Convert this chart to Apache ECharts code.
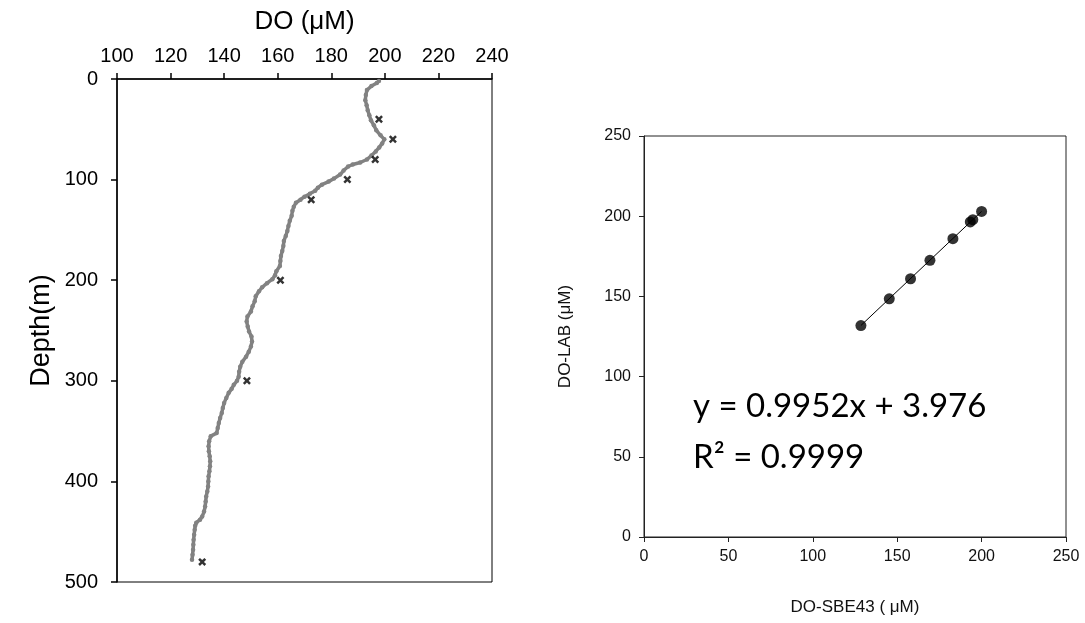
<!DOCTYPE html>
<html>
<head>
<meta charset="utf-8">
<script src="https://cdn.jsdelivr.net/npm/echarts@6/dist/echarts.min.js"></script>
<style>
  html, body { margin: 0; padding: 0; background: #fff; }
  #chart { width: 1085px; height: 623px; }
</style>
</head>
<body>
<div id="chart"></div>
<script>
// CTD dissolved-oxygen profile (SBE43), depth in m, DO in µM
const profileDepth = [2, 4, 7, 11, 16, 21, 26, 31, 36, 41, 46, 51, 56, 60, 64, 68, 72, 76, 80, 83,
  85, 87, 91, 95, 99, 102, 105, 108, 111, 114, 117, 120, 123, 127, 131, 136, 141, 146, 151, 156,
  161, 166, 171, 176, 181, 186, 191, 195, 199, 203, 207, 211, 216, 221, 226, 231, 236, 241, 246, 251,
  256, 261, 266, 271, 276, 281, 286, 291, 296, 300, 304, 308, 312, 317, 322, 327, 332, 337, 342, 347,
  352, 355, 360, 365, 370, 375, 380, 385, 390, 395, 400, 405, 410, 415, 420, 425, 430, 435, 438, 441,
  444, 448, 453, 458, 463, 468, 473, 478];
const profileDO = [197.8, 197.0, 195.0, 193.3, 192.9, 192.7, 193.2, 193.6, 194.2, 194.8, 195.9, 196.8, 198.4, 199.8, 199.0, 197.9, 196.6, 195.0, 193.3, 190.8,
  188.0, 186.3, 184.6, 183.3, 181.0, 179.0, 176.5, 175.0, 174.0, 172.0, 170.0, 168.5, 166.8, 166.0, 165.5, 165.2, 164.5, 164.0, 163.6, 163.0,
  162.3, 162.1, 161.7, 161.2, 161.0, 160.8, 159.5, 159.0, 158.0, 156.0, 154.2, 153.0, 151.8, 151.4, 150.6, 150.0, 148.7, 148.4, 148.8, 149.3,
  150.2, 150.4, 150.0, 149.2, 148.2, 146.8, 146.0, 145.6, 145.4, 144.8, 143.6, 142.8, 141.7, 140.8, 140.0, 139.5, 139.1, 138.5, 138.0, 137.6,
  137.2, 135.0, 134.4, 134.2, 134.3, 134.6, 134.8, 134.7, 134.5, 134.2, 134.1, 134.0, 133.7, 133.3, 133.1, 132.9, 132.5, 131.8, 131.0, 129.6,
  129.2, 129.0, 128.8, 128.6, 128.5, 128.4, 128.2, 128.0];

// Bottle samples: depth, Winkler (lab) DO and the matching SBE43 reading
const sampleDepth = [40, 60, 80, 100, 120, 200, 300, 480];
const labDO = [197.8, 203.0, 196.4, 186.0, 172.5, 161.0, 148.5, 131.8];
const sbeDO = [194.8, 200.0, 193.3, 183.0, 169.4, 157.9, 145.3, 128.5];

// Linear fit DO-LAB vs DO-SBE43
const fitSlope = 0.9952;
const fitIntercept = 3.976;
const fitR2 = '0.9999';

// Axis ticks
const doTicks = [100, 120, 140, 160, 180, 200, 220, 240];
const depthTicks = [0, 100, 200, 300, 400, 500];
const calTicks = [0, 50, 100, 150, 200, 250];

const profileData = profileDepth.map((d, i) => [profileDO[i], d]);
const sampleData = sampleDepth.map((d, i) => [labDO[i], d]);
const calData = sbeDO.map((x, i) => [x, labDO[i]]);
const xMin = Math.min(...sbeDO), xMax = Math.max(...sbeDO);
const fitData = [[xMin, fitSlope * xMin + fitIntercept], [xMax, fitSlope * xMax + fitIntercept]];

const crossPath = 'path://M0,2.2 L2.2,0 L5,2.8 L7.8,0 L10,2.2 L7.2,5 L10,7.8 L7.8,10 L5,7.2 L2.2,10 L0,7.8 L2.8,5 Z';
const FONT = '"Liberation Sans", Arial, sans-serif';

const chart = echarts.init(document.getElementById('chart'), null, { renderer: 'canvas' });

const leftAxisCommon = {
  axisLine: { show: true, lineStyle: { color: '#000', width: 1.5 } },
  axisTick: { show: true, inside: false, length: 6, lineStyle: { color: '#000', width: 1.5 } },
  splitLine: { show: false },
  axisLabel: { color: '#000', fontSize: 20, fontFamily: FONT },
  nameTextStyle: { color: '#000', fontFamily: FONT, fontSize: 26 }
};
const rightAxisCommon = {
  axisLine: { show: true, lineStyle: { color: '#222', width: 1 } },
  axisTick: { show: true, inside: false, length: 5, lineStyle: { color: '#222', width: 1 } },
  splitLine: { show: false },
  axisLabel: { color: '#111', fontSize: 16, fontFamily: FONT },
  nameTextStyle: { color: '#111', fontFamily: FONT, fontSize: 17 }
};

chart.setOption({
  animation: false,
  backgroundColor: '#fff',
  grid: [
    { left: 117, top: 79, width: 375, height: 503, show: true, borderColor: '#000', borderWidth: 1, backgroundColor: 'transparent' },
    { left: 644, top: 136, width: 422, height: 401, show: true, borderColor: '#222', borderWidth: 1, backgroundColor: 'transparent' }
  ],
  xAxis: [
    Object.assign({}, leftAxisCommon, {
      gridIndex: 0, type: 'value', position: 'top',
      min: doTicks[0], max: doTicks[doTicks.length - 1], interval: doTicks[1] - doTicks[0],
      name: 'DO (\u03bcM)', nameLocation: 'middle', nameGap: 44,
      axisLabel: Object.assign({}, leftAxisCommon.axisLabel, { margin: 13 })
    }),
    Object.assign({}, rightAxisCommon, {
      gridIndex: 1, type: 'value', position: 'bottom',
      min: calTicks[0], max: calTicks[calTicks.length - 1], interval: calTicks[1] - calTicks[0],
      name: 'DO-SBE43 ( \u03bcM)', nameLocation: 'middle', nameGap: 62,
      axisLabel: Object.assign({}, rightAxisCommon.axisLabel, { margin: 12 })
    })
  ],
  yAxis: [
    Object.assign({}, leftAxisCommon, {
      gridIndex: 0, type: 'value', inverse: true,
      min: depthTicks[0], max: depthTicks[depthTicks.length - 1], interval: depthTicks[1] - depthTicks[0],
      name: 'Depth(m)', nameLocation: 'middle', nameGap: 62,
      nameTextStyle: Object.assign({}, leftAxisCommon.nameTextStyle, { fontSize: 27 }),
      axisLabel: Object.assign({}, leftAxisCommon.axisLabel, { margin: 19 })
    }),
    Object.assign({}, rightAxisCommon, {
      gridIndex: 1, type: 'value',
      min: calTicks[0], max: calTicks[calTicks.length - 1], interval: calTicks[1] - calTicks[0],
      name: 'DO-LAB (\u03bcM)', nameLocation: 'middle', nameGap: 70,
      axisLabel: Object.assign({}, rightAxisCommon.axisLabel, { margin: 13 })
    })
  ],
  series: [
    {
      name: 'SBE43 profile', type: 'line', xAxisIndex: 0, yAxisIndex: 0,
      data: profileData,
      symbol: 'circle', symbolSize: 4.5, showAllSymbol: true,
      itemStyle: { color: '#828282' },
      lineStyle: { color: '#828282', width: 3.5 },
      z: 2
    },
    {
      name: 'Lab samples', type: 'scatter', xAxisIndex: 0, yAxisIndex: 0,
      data: sampleData,
      symbol: crossPath, symbolSize: 8,
      itemStyle: { color: '#000' },
      z: 3
    },
    {
      name: 'Linear fit', type: 'line', xAxisIndex: 1, yAxisIndex: 1,
      data: fitData, symbol: 'none',
      lineStyle: { color: '#000', width: 1 },
      z: 2
    },
    {
      name: 'Calibration', type: 'scatter', xAxisIndex: 1, yAxisIndex: 1,
      data: calData, symbol: 'circle', symbolSize: 11,
      itemStyle: { color: '#000' },
      z: 3
    }
  ],
  graphic: [
    {
      type: 'text', left: 693, top: 390,
      style: {
        text: 'y = ' + fitSlope + 'x + ' + fitIntercept,
        font: '33px Lato, "Open Sans", sans-serif', fill: '#000'
      }
    },
    {
      type: 'text', left: 693, top: 441,
      style: {
        text: 'R\u00b2 = ' + fitR2,
        font: '33px Lato, "Open Sans", sans-serif', fill: '#000'
      }
    }
  ]
});
</script>
</body>
</html>
